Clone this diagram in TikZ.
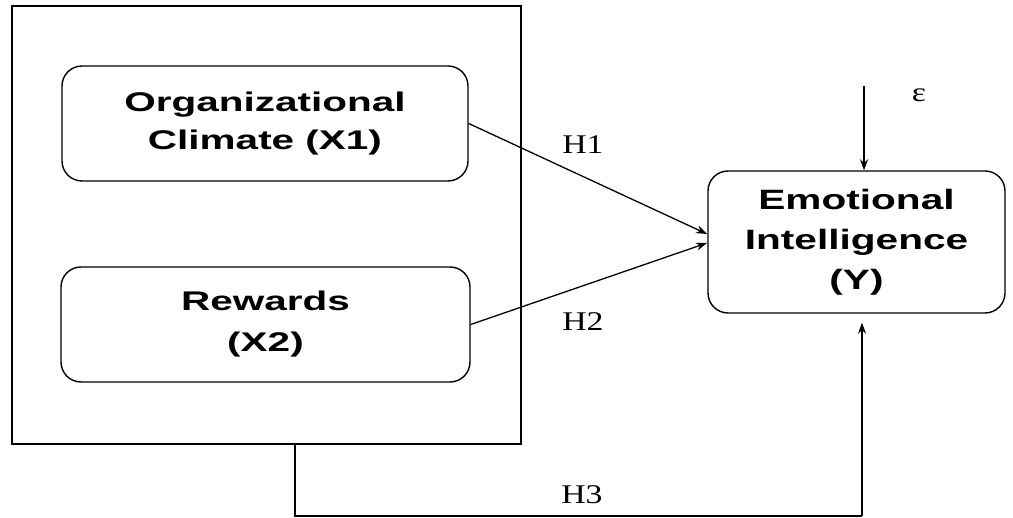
\documentclass[tikz,border=0pt]{standalone}
\usepackage{fontspec}
\usetikzlibrary{arrows.meta,calc}
\newfontfamily\boxfont[FakeStretch=1.5]{Liberation Sans}
\newfontfamily\emofont[FakeStretch=1.45]{Liberation Sans}
\newfontfamily\labfont[FakeStretch=1.25]{Liberation Serif}
\begin{document}
\begin{tikzpicture}[x=1pt,y=-1pt,
  box/.style={draw,line width=1.4pt,rounded corners=20pt,align=center,
    font=\boxfont\bfseries\fontsize{27}{38}\selectfont,inner sep=0pt},
  hlab/.style={font=\labfont\fontsize{27}{30}\selectfont,inner sep=0pt},
  conn/.style={line width=1.3pt},
  arr/.style={conn,-{Stealth[length=11pt,width=8pt]}}]
\useasboundingbox (0,0) rectangle (1013,518);
\node[draw,line width=2pt,minimum width=509pt,minimum height=438pt] (outer) at (266.5,225) {};
\node[box,minimum width=406pt,minimum height=115pt] (x1) at (265,123.5) {Organizational\\Climate (X1)};
\node[box,minimum width=409pt,minimum height=115pt,font=\boxfont\bfseries\fontsize{27}{41}\selectfont] (x2) at (265.5,324.5) {Rewards\\(X2)};
\node[box,minimum width=297pt,minimum height=142pt,font=\emofont\bfseries\fontsize{28}{40}\selectfont] (y) at (856.5,242) {Emotional\\Intelligence\\(Y)};
\node[hlab] (h1) at (583,145) {H1};
\node[hlab] (h2) at (583,322) {H2};
\node[hlab] (h3) at (582,495) {H3};
\node[hlab] (eps) at (919,95) {ε};
\coordinate (t1) at (707,234);
\coordinate (t2) at (707,243);
\coordinate (e1) at (864,86);
\coordinate (b1) at (295,516);
\coordinate (b2) at (862,516);
\draw[arr] (x1.east) -- (t1);
\draw[arr] (x2.east) -- (t2);
\draw[arr] (e1) -- (e1 |- y.north);
\draw[conn] (outer.south -| b1) -- (b1) -- (b2);
\draw[arr,shorten >=9pt] (b2) -- (b2 |- y.south);
\end{tikzpicture}
\end{document}
